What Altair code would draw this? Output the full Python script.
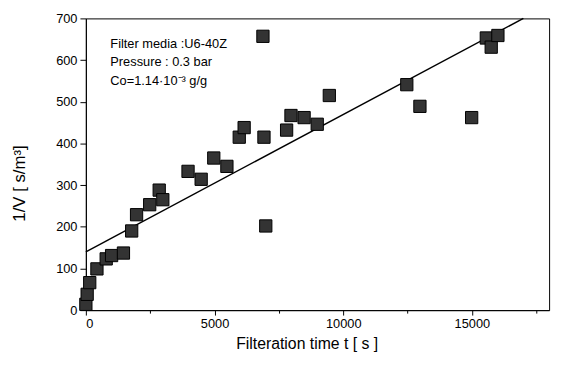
import altair as alt
import pandas as pd

# Measured data (filtration time t [s], 1/V [s/m^3])
t_vals = [0, 50, 150, 430, 790, 1000, 1460, 1780, 1970, 2480, 2850, 2990,
          3970, 4480, 4970, 5480, 5960, 6150, 6880, 6920, 6990,
          7800, 7970, 8480, 8990, 9460, 12470, 12980, 14990, 15560, 15750, 16010]
v_vals = [14, 38, 66, 99, 123, 131, 137, 190, 229, 253, 288, 265,
          333, 314, 365, 345, 415, 438, 657, 415, 202,
          432, 467, 462, 446, 515, 541, 489, 462, 653, 631, 659]

# Linear fit line
fit_t = [0, 17000]
fit_v = [140, 700]

# Annotation texts
note_text = ["Filter media :U6-40Z", "Pressure : 0.3 bar", "Co=1.14\u00b710\u207b\u00b3 g/g"]
note_t = [950, 950, 950]
note_v = [628, 586, 541]

x_ticks = list(range(0, 17501, 2500))
y_ticks = list(range(0, 701, 50))

FONT = "Liberation Sans"

pts = pd.DataFrame({"t": t_vals, "v": v_vals})
fit = pd.DataFrame({"t": fit_t, "v": fit_v})
notes = pd.DataFrame({"t": note_t, "v": note_v, "label": note_text})

xscale = alt.Scale(domain=[0, 18000], nice=False, zero=False)
yscale = alt.Scale(domain=[0, 700], nice=False, zero=False)

xaxis = alt.Axis(
    values=x_ticks,
    labelExpr="datum.value % 5000 === 0 ? datum.label : ''",
    format="d",
    grid=False,
    tickSize={"condition": {"test": "datum.value % 5000 === 0", "value": 5}, "value": 3},
    labelPadding=3,
    title="Filteration time  t [ s ]",
    titleX=224, titleY=39, titleBaseline="alphabetic", titleAlign="center",
)
yaxis = alt.Axis(
    values=y_ticks,
    labelExpr="datum.value % 100 === 0 ? datum.label : ''",
    format="d",
    grid=False,
    tickSize={"condition": {"test": "datum.value % 100 === 0", "value": 6}, "value": 4},
    labelPadding=3,
    title="1/V  [ s/m\u00b3]",
    titleX=-67, titleY=167, titleAngle=270, titleAlign="center", titleBaseline="middle",
    titleFontSize=17,
)

points = alt.Chart(pts).mark_square(
    size=155, fill="#333333", stroke="#000000", strokeWidth=1, opacity=1
).encode(
    x=alt.X("t:Q", scale=xscale, axis=xaxis),
    y=alt.Y("v:Q", scale=yscale, axis=yaxis),
)

line = alt.Chart(fit).mark_line(color="black", strokeWidth=1.5).encode(
    x=alt.X("t:Q", scale=xscale),
    y=alt.Y("v:Q", scale=yscale),
)

text = alt.Chart(notes).mark_text(
    align="left", baseline="alphabetic", font=FONT, fontSize=13, color="black"
).encode(
    x=alt.X("t:Q", scale=xscale),
    y=alt.Y("v:Q", scale=yscale),
    text="label:N",
)

chart = alt.layer(line, points, text).properties(
    width=470, height=296,
    autosize=alt.AutoSizeParams(type="none"),
    padding={"left": 79, "top": 8, "right": 8, "bottom": 46},
    background="white",
).configure_view(
    stroke="black", strokeWidth=1
).configure_axis(
    domainColor="black", tickColor="black", labelColor="black", titleColor="black",
    labelFont=FONT, titleFont=FONT, labelFontSize=13, titleFontSize=16,
    titleFontWeight="normal", domainWidth=1, tickWidth=1,
)

chart.save("out.html", embed_options={"renderer": "svg", "actions": False})
